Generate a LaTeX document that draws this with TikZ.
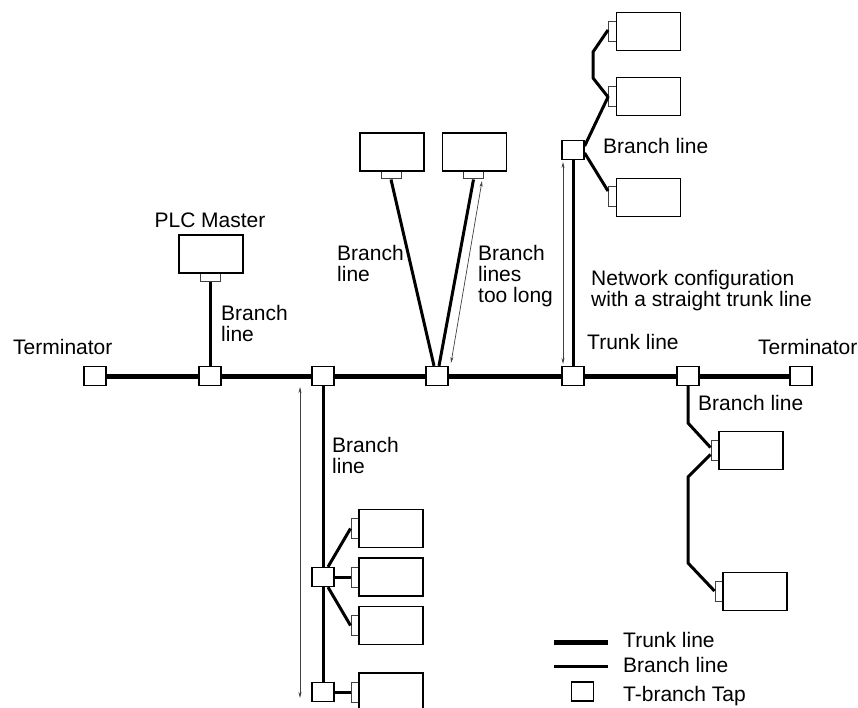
\documentclass[tikz,border=0pt]{standalone}
\usepackage{fontspec}
\setmainfont{Liberation Sans}
\usepackage{tikz}
\usetikzlibrary{arrows.meta}
\newcommand{\lblfont}{\fontsize{21}{21}\selectfont}
\tikzset{
  tap/.style={draw, fill=white, line width=1.3pt, minimum width=22pt,
              minimum height=19pt, inner sep=0pt},
  devbox/.style={draw, fill=white, line width=1.5pt, minimum width=64pt,
                 minimum height=38pt, inner sep=0pt},
  portv/.style={draw=black!75, fill=white, line width=1pt, minimum width=20pt,
                minimum height=8pt, inner sep=0pt},
  porth/.style={draw=black!75, fill=white, line width=1pt, minimum width=8pt,
                minimum height=20pt, inner sep=0pt},
  trunk/.style={line width=5pt},
  branch/.style={line width=3pt, line join=round},
  dimarrow/.style={{Stealth[length=6pt,width=3pt]}-{Stealth[length=6pt,width=3pt]},
                   line width=0.7pt, draw=black!75},
  lbl/.style={font=\lblfont, align=left, inner sep=0pt, anchor=north west}
}

\begin{document}
\begin{tikzpicture}[x=1pt,y=-1pt]
  \clip (0,0) rectangle (858,708);
  % taps on the trunk line
  \node[tap] (termL) at (95,376) {};
  \node[tap] (tapA) at (210,376) {};
  \node[tap] (tapB) at (323,376) {};
  \node[tap] (tapC) at (437,376) {};
  \node[tap] (tapD) at (573,376) {};
  \node[tap] (tapE) at (688,376) {};
  \node[tap] (termR) at (801,376) {};
  \foreach \a/\b in {termL/tapA,tapA/tapB,tapB/tapC,tapC/tapD,tapD/tapE,tapE/termR} {
    \draw[trunk] (\a.east) -- (\b.west);
  }
  % other taps
  \node[tap] (tapF) at (573,150) {};
  \node[tap] (tapG) at (323,577) {};
  \node[tap] (tapH) at (323,692) {};

  % PLC master
  \node[portv] (plcport) at (210,277) {};
  \node[devbox] (plc) at (211,254) {};
  \node[font=\lblfont, inner sep=0pt] (plclbl) at (210,220) {PLC Master};
  \draw[branch] (plcport.south) -- (tapA.north);

  % two slaves with long branch lines
  \node[portv] (portA) at (391,175) {};
  \node[devbox] (unitA) at (392,152) {};
  \node[portv] (portB) at (473.5,175) {};
  \node[devbox] (unitB) at (474.5,152) {};
  \draw[branch] (portA.south) -- ([xshift=-3pt]tapC.north);
  \draw[branch] (portB.south) -- ([xshift=2pt]tapC.north);
  \coordinate (tooA) at (482,181);
  \coordinate (tooB) at (451,363);
  \draw[dimarrow] (tooA) -- (tooB);

  % top right group
  \node[porth] (portC1) at (612.5,32) {};
  \node[devbox] (unitC1) at (648.5,31.5) {};
  \node[porth] (portC2) at (612.5,97) {};
  \node[devbox] (unitC2) at (648.5,96.5) {};
  \node[porth] (portC3) at (612.5,197) {};
  \node[devbox] (unitC3) at (648.5,197.5) {};
  \draw[branch] (tapF.south) -- (tapD.north);
  \draw[branch] ([yshift=4pt]tapF.east) -- (portC2.west) -- (593,78) -- (593,52)
    -- ([yshift=2pt]portC1.west);
  \draw[branch] ([yshift=-3pt]tapF.east) -- ([yshift=6pt]portC3.west);
  \coordinate (netA) at (563,162);
  \coordinate (netB) at (563,364);
  \draw[dimarrow] (netA) -- (netB);

  % bottom left group
  \node[porth] (portD1) at (355,528.5) {};
  \node[devbox] (unitD1) at (391,528.5) {};
  \node[porth] (portD2) at (355,577) {};
  \node[devbox] (unitD2) at (391,577) {};
  \node[porth] (portD3) at (355,625.5) {};
  \node[devbox] (unitD3) at (391,625.5) {};
  \node[porth] (portD4) at (355,692) {};
  \node[devbox] (unitD4) at (391,692) {};
  \draw[branch] (tapB.south) -- (tapG.north);
  \draw[branch] (tapG.south) -- (tapH.north);
  \draw[branch] ([xshift=5pt]tapG.north) -- (portD1.west);
  \draw[branch] (tapG.east) -- (portD2.west);
  \draw[branch] ([xshift=5pt]tapG.south) -- (portD3.west);
  \draw[branch] (tapH.east) -- (portD4.west);
  \coordinate (lowA) at (300,387);
  \coordinate (lowB) at (300,698);
  \draw[dimarrow] (lowA) -- (lowB);

  % bottom right group
  \node[porth] (portE1) at (715,450.5) {};
  \node[devbox] (unitE1) at (751,450.5) {};
  \node[porth] (portE2) at (719,591) {};
  \node[devbox] (unitE2) at (755,591.5) {};
  \draw[branch] (tapE.south) -- (688,423) -- ([yshift=3pt]portE1.west);
  \draw[branch] ([yshift=-4pt]portE1.west) -- (688,477) -- (688,563) -- (portE2.west);

  % labels
  \node[lbl] (lblTermL) at (13,339) {Terminator};
  \node[lbl] (lblTermR) at (758,339) {Terminator};
  \node[lbl] (lblPlcBr) at (221,305) {Branch\\line};
  \node[lbl] (lblMidBr) at (337,245) {Branch\\line};
  \node[lbl] (lblLong) at (478,245) {Branch\\lines\\too long};
  \node[lbl] (lblTopBr) at (603,138) {Branch line};
  \node[lbl] (lblNet) at (591,270) {Network configuration\\with a straight trunk line};
  \node[lbl] (lblTrunk) at (587,334) {Trunk line};
  \node[lbl] (lblLowBr) at (332,437) {Branch\\line};
  \node[lbl] (lblRgtBr) at (698,395) {Branch line};

  % legend
  \coordinate (lgA) at (554,642);
  \coordinate (lgB) at (608,642);
  \coordinate (lgC) at (554,666);
  \coordinate (lgD) at (608,666);
  \draw[trunk] (lgA) -- (lgB);
  \draw[branch] (lgC) -- (lgD);
  \node[tap] (lgTap) at (582.5,691.5) {};
  \node[lbl] (lgTxtA) at (623,632) {Trunk line};
  \node[lbl] (lgTxtB) at (623,657) {Branch line};
  \node[lbl] (lgTxtC) at (623,686) {T-branch Tap};
\end{tikzpicture}
\end{document}
